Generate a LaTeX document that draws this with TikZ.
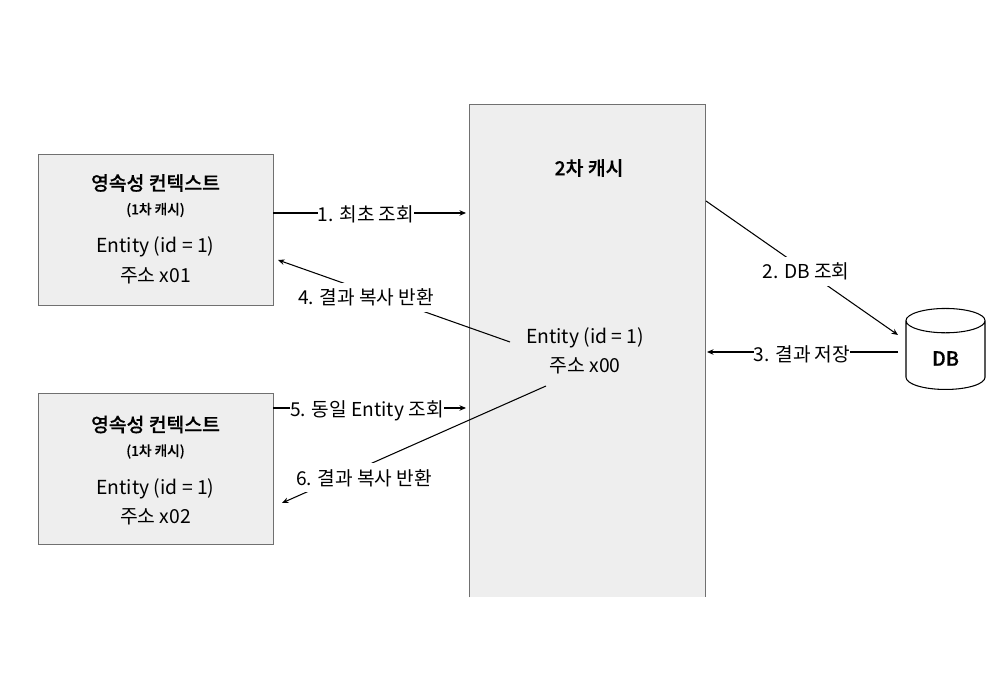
\documentclass[tikz,border=0pt]{standalone}
\usepackage{fontspec}
\setmainfont[BoldFont={Noto Sans CJK KR Medium}, BoldFeatures={FakeBold=0.4}]{Noto Sans CJK KR}
\usetikzlibrary{shapes.geometric, arrows.meta}
\definecolor{boxgray}{HTML}{EEEEEE}
\definecolor{edgegray}{HTML}{707070}
\begin{document}
\begin{tikzpicture}[>={Stealth[length=1.3mm, width=1.1mm]},
	ctx box/.style={draw=edgegray, fill=boxgray, line width=0.5pt, minimum width=4.7cm, minimum height=3.02cm},
	title/.style={font=\fontsize{11}{13}\bfseries, inner sep=0pt},
	subtitle/.style={font=\fontsize{7.8}{9}\bfseries, inner sep=0pt},
	body/.style={font=\fontsize{11}{13}\selectfont, inner sep=0pt},
	flow/.style={->, line width=0.6pt},
	flow label/.style={font=\fontsize{10.9}{13}\selectfont, fill=white, inner xsep=0pt, inner ysep=0pt, minimum height=0.58cm}]
	\useasboundingbox (0,0) rectangle (20,14);

	\node[fill=boxgray, minimum width=4.7cm, minimum height=9.84cm, inner sep=0pt] (cache) at (11.75,6.98) {};
	\draw[edgegray, line width=0.5pt] (cache.south west) -- (cache.north west) -- (cache.north east) -- (cache.south east);
	\node[title] (cachetitle) at (11.78,10.64) {2차 캐시};
	\node[body] (cacheentity) at (11.7,7.25) {Entity (id = 1)};
	\node[body] (cacheaddr) at (11.7,6.68) {주소 x00};

	\foreach \ctx/\yc/\yt/\addr in {a/9.41/9.41/x01, b/4.62/4.58/x02}{
	  \node[ctx box] (\ctx) at (3.11,\yc) {};
	  \node[title] (\ctx title) at (3.11,\yt+0.93) {영속성 컨텍스트};
	  \node[subtitle] (\ctx sub) at (3.11,\yt+0.39) {(1차 캐시)};
	  \node[body] (\ctx entity) at (3.11,\yt-0.35) {Entity (id = 1)};
	  \node[body] (\ctx addr) at (3.11,\yt-0.92) {주소 \addr};
	}

	\node[cylinder, shape border rotate=90, draw, shape aspect=0.63, line width=0.6pt, minimum width=1.58cm, minimum height=1.62cm, anchor=south, font=\fontsize{11.2}{13}\bfseries] (db) at (18.91,6.2) {DB};

	\coordinate (oneend) at (9.32,9.74);
	\coordinate (twostart) at (14.12,9.98);
	\coordinate (twoend) at (17.96,7.3);
	\coordinate (threestart) at (17.96,6.96);
	\coordinate (threeend) at (14.14,6.96);
	\coordinate (fourstart) at (10.2,7.16);
	\coordinate (fourend) at (5.56,8.8);
	\coordinate (fiveend) at (9.32,5.84);
	\coordinate (sixstart) at (10.92,6.28);
	\coordinate (sixend) at (5.64,3.94);

	\draw[flow] (a.east |- oneend) -- (oneend);
	\draw[flow] (twostart) -- (twoend);
	\draw[flow] (threestart) -- (threeend);
	\draw[flow] (fourstart) -- (fourend);
	\draw[flow] (b.east |- fiveend) -- (fiveend);
	\draw[flow] (sixstart) -- (sixend);

	\node[flow label] (one) at (7.32,9.72) {1. 최초 조회};
	\node[flow label] (two) at (16.12,8.57) {2. DB 조회};
	\node[flow label] (three) at (16.04,6.91) {3. 결과 저장};
	\node[flow label] (four) at (7.32,8.05) {4. 결과 복사 반환};
	\node[flow label] (five) at (7.34,5.79) {5. 동일 Entity 조회};
	\node[flow label] (six) at (7.28,4.44) {6. 결과 복사 반환};
\end{tikzpicture}
\end{document}
